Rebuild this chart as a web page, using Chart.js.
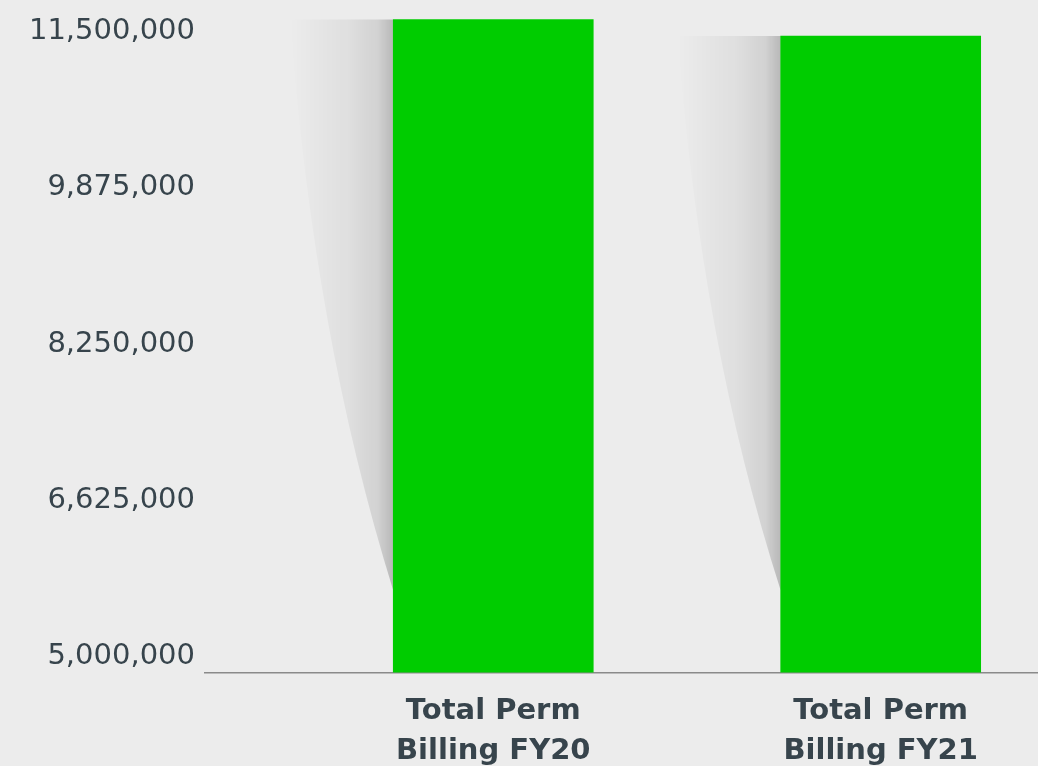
<!DOCTYPE html>
<html>
<head>
<meta charset="utf-8">
<script src="https://cdn.jsdelivr.net/npm/chart.js@4"></script>
<style>
  html, body { margin: 0; padding: 0; background: #ececec; }
  #wrap { width: 1038px; height: 766px; }
</style>
</head>
<body>
<div id="wrap"><canvas id="myChart" width="1038" height="766"></canvas></div>
<script>
// data
const categories = [["Total Perm", "Billing FY20"], ["Total Perm", "Billing FY21"]];
const billing = [11790000, 11620000];
const yTicks = [5000000, 6625000, 8250000, 9875000, 11500000];

const textColor = '#37444c';

// soft shadow on the left of each bar
const barShadow = {
  id: 'barShadow',
  beforeDatasetsDraw(chart) {
    const ctx = chart.ctx;
    const meta = chart.getDatasetMeta(0);
    const baseY = chart.chartArea.bottom;
    meta.data.forEach(function (bar) {
      const p = bar.getProps(['x', 'y', 'width'], true);
      const left = p.x - p.width / 2;
      const top = p.y;
      const bottom = baseY - 82;
      const w = 103;
      const g = ctx.createLinearGradient(left - w, 0, left, 0);
      g.addColorStop(0, 'rgba(0,0,0,0)');
      g.addColorStop(0.55, 'rgba(0,0,0,0.05)');
      g.addColorStop(0.85, 'rgba(0,0,0,0.11)');
      g.addColorStop(1, 'rgba(0,0,0,0.22)');
      ctx.save();
      ctx.beginPath();
      ctx.moveTo(left, top);
      ctx.lineTo(left - w, top);
      ctx.quadraticCurveTo(left - 80, top + (bottom - top) * 0.55, left, bottom);
      ctx.closePath();
      ctx.fillStyle = g;
      ctx.fill();
      ctx.restore();
    });
  }
};

const ctx1 = document.getElementById('myChart');

new Chart(ctx1, {
  type: 'bar',
  data: {
    datasets: [{
      data: billing.map(function (v, i) { return { x: i, y: v }; }),
      backgroundColor: '#00cc00',
      borderWidth: 0,
      barThickness: 200
    }]
  },
  options: {
    responsive: false,
    animation: false,
    layout: { padding: { top: 10, left: 0, right: 0, bottom: 0 } },
    plugins: { legend: { display: false }, tooltip: { enabled: false } },
    scales: {
      x: {
        type: 'linear',
        offset: false,
        min: -0.744,
        max: 1.406,
        grid: { display: false },
        border: { display: true, color: '#8a8a8a', width: 1.5 },
        afterBuildTicks: function (scale) {
          scale.ticks = categories.map(function (c, i) { return { value: i }; });
        },
        afterFit: function (scale) {
          scale.height = 93.5;
          scale.paddingLeft = 0;
          scale.paddingRight = 0;
        },
        ticks: {
          color: textColor,
          padding: 11,
          maxRotation: 0,
          autoSkip: false,
          font: { family: 'DejaVu Sans', size: 29, weight: 'bold', lineHeight: 1.38 },
          callback: function (value, index) { return categories[index]; }
        }
      },
      y: {
        min: 5000000,
        max: 11890000,
        grid: { display: false, drawTicks: false },
        border: { display: false },
        afterBuildTicks: function (scale) {
          scale.ticks = yTicks.map(function (v) { return { value: v }; });
        },
        afterFit: function (scale) {
          scale.width = 205;
          scale.paddingTop = 0;
          scale.paddingBottom = 0;
        },
        ticks: {
          color: textColor,
          padding: 10,
          labelOffset: -16,
          font: { family: 'DejaVu Sans', size: 29 },
          callback: function (value) { return value.toLocaleString('en-US'); }
        }
      }
    }
  },
  plugins: [barShadow]
});
</script>
</body>
</html>
